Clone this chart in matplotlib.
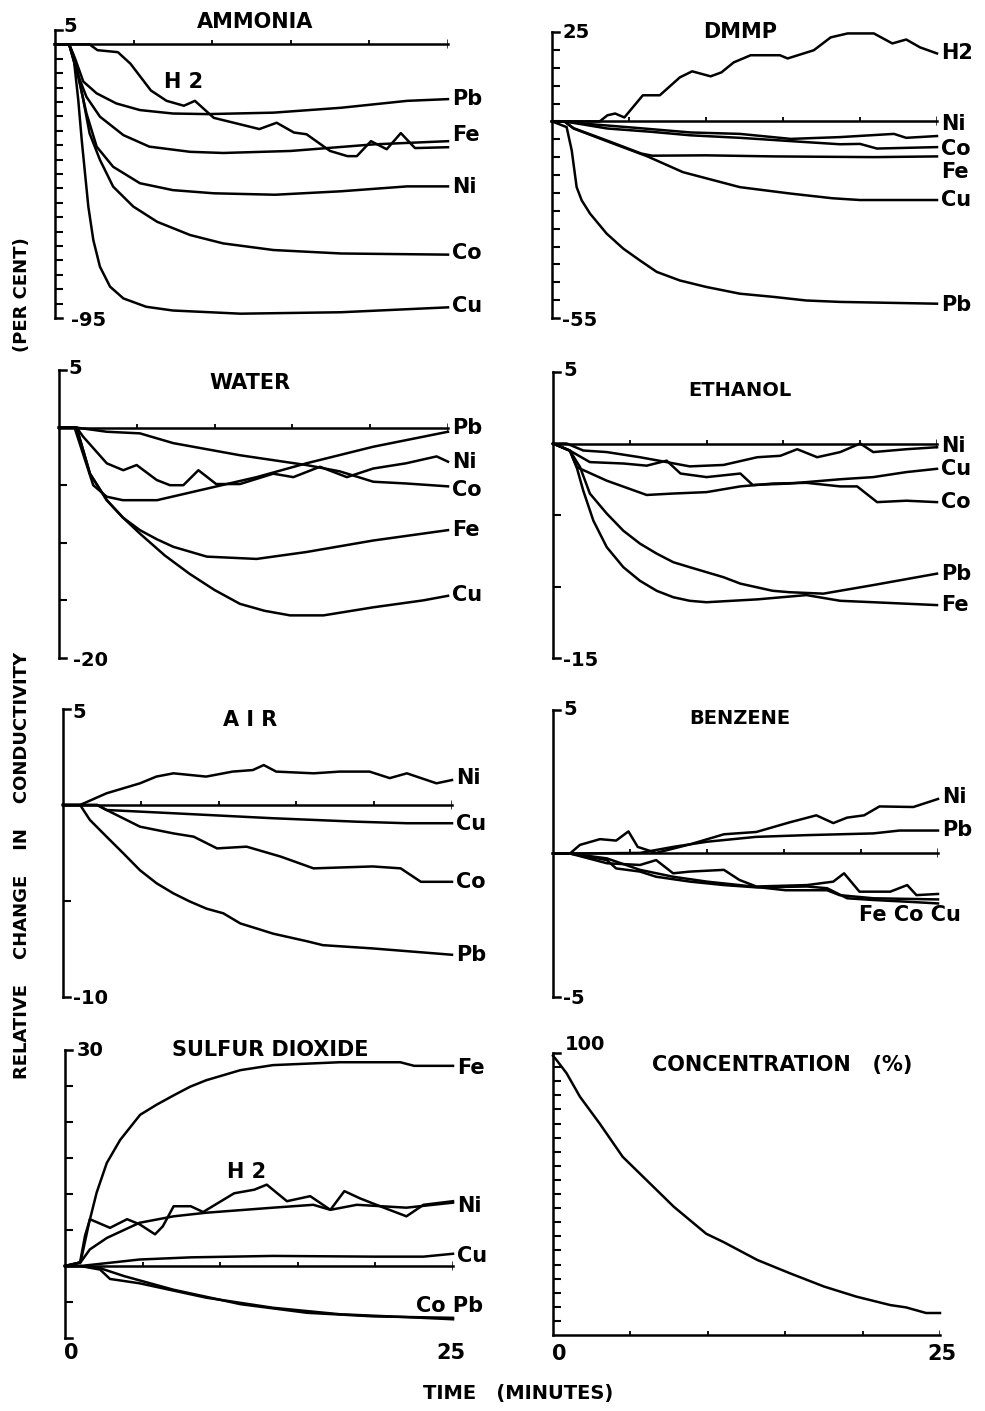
import matplotlib.pyplot as plt

W, H = 985, 1411

# ---------------- data: time (minutes), change (%) ----------------
ammonia = {
    "Cu": ([0, 0.9, 1.17, 1.48, 1.7, 1.91, 2.12, 2.44, 2.86, 3.5, 4.35, 5.8, 7.5, 11.8, 18.2, 25],
           [0, 0, -3.7, -19.3, -33.2, -44.8, -56.3, -68, -77.2, -84.1, -88.2, -91.1, -92.4,
            -93.5, -93, -91.3]),
    "Co": ([0, 0.9, 1.15, 1.38, 1.8, 2.2, 2.86, 3.7, 4.98, 6.5, 8.6, 10.7, 13.9, 18.2, 25],
           [0, 0, -4.5, -7.7, -19.3, -30.9, -40.1, -49.4, -56.3, -61.6, -66.2, -69.1, -71.4,
            -72.6, -73]),
    "Ni": ([0, 0.9, 1.38, 2.0, 2.65, 3.7, 5.4, 7.5, 10.1, 14.0, 18.2, 22.4, 25],
           [0, 0, -8.9, -23.9, -35.5, -42.5, -48.2, -50.6, -51.7, -52.2, -51, -49.3, -49.3]),
    "Fe": ([0, 0.9, 1.38, 2.0, 2.86, 4.35, 6.0, 8.6, 10.7, 15, 20.3, 25],
           [0, 0, -9.5, -18.2, -25.1, -31.5, -35.5, -37.3, -37.7, -37, -34.7, -33.6]),
    "Pb": ([0, 0.9, 1.27, 1.8, 2.65, 3.9, 5.4, 7.5, 9.7, 13.9, 18.2, 22.4, 25],
           [0, 0, -4.8, -12.9, -17, -20.5, -22.8, -24.0, -24.2, -23.7, -22, -19.6, -19]),
    "H2": ([0, 2.2, 2.7, 4.0, 4.8, 6.1, 7.1, 8.2, 8.9, 10.1, 13, 14.1, 15.2, 16, 17.5,
            18.6, 19.2, 20.1, 21.1, 22, 22.9, 25],
           [0, 0, -2, -2.7, -6.7, -16, -19.6, -21.3, -19.6, -25.5, -29.4, -27.2, -30.6,
            -31.2, -37, -38.8, -38.8, -33.6, -36.4, -30.8, -36, -35.7]),
}
ammonia_labels = [("Pb", -19), ("Fe", -31.5), ("Ni", -49.5), ("Co", -72.5), ("Cu", -91)]

dmmp = {
    "H2": ([0, 3.1, 3.6, 4.1, 4.7, 5.9, 7.0, 8.3, 9.1, 10.3, 11.0, 11.8, 12.9, 14.8, 15.3,
            17, 18.1, 19.2, 20.9, 22.1, 23, 23.9, 25],
           [0, 0, 1.7, 2.2, 1.1, 7.3, 7.3, 12.3, 14.0, 12.6, 13.7, 16.5, 18.5, 18.5, 17.6,
            19.9, 23.5, 24.6, 24.6, 21.8, 22.9, 20.7, 19.0]),
    "Ni": ([0, 0.8, 2.0, 5.7, 9.0, 12.2, 15.5, 18.7, 22.2, 23.0, 25],
           [0, 0, -0.6, -1.9, -3.1, -3.5, -4.9, -4.4, -3.5, -4.6, -4.1]),
    "Co": ([0, 0.8, 3.6, 6.4, 9.0, 12.2, 16.5, 18.7, 20.0, 21.1, 25],
           [0, 0, -2.0, -2.9, -3.9, -4.6, -5.8, -6.4, -6.3, -7.6, -7.2]),
    "Fe": ([0, 0.8, 1.4, 3.6, 5.8, 6.5, 10.0, 14.4, 20.9, 25],
           [0, 0, -1.9, -5.4, -9.0, -9.6, -9.5, -9.8, -10.0, -9.8]),
    "Cu": ([0, 0.8, 1.4, 3.6, 6.2, 8.5, 12.2, 15.5, 18.2, 20, 25],
           [0, 0, -2.0, -5.6, -9.8, -14.2, -18.4, -20.2, -21.5, -22, -22]),
    "Pb": ([0, 0.95, 1.28, 1.6, 1.93, 2.47, 3.55, 4.63, 5.71, 6.8, 8.3, 10.0, 12.2, 14.4,
            16.5, 18.7, 25],
           [0, -1.6, -8.1, -18.4, -22.1, -25.8, -31.4, -35.6, -38.9, -42.1, -44.5, -46.3,
            -48.2, -49.1, -50.1, -50.5, -51.0]),
}
dmmp_labels = [("H2", 19), ("Ni", -0.6), ("Co", -7.6), ("Fe", -14.3), ("Cu", -22.1), ("Pb", -51.5)]

water = {
    "Pb": ([0, 1.0, 1.6, 2.2, 3.07, 4.1, 6.3, 9.5, 12.7, 15.9, 20.2, 25],
           [0, 0, -2.5, -5.0, -6.0, -6.3, -6.3, -5.3, -4.3, -3.1, -1.66, -0.36]),
    "Ni": ([0, 1.13, 1.56, 3.07, 4.13, 4.99, 6.28, 7.13, 7.99, 8.96, 10.1, 11.63, 13.77,
            15.06, 16.77, 18.5, 20.2, 22.3, 24.27, 25],
           [0, 0, -0.8, -3.1, -3.7, -3.25, -4.55, -5.0, -5.0, -3.7, -4.9, -4.9, -4.0,
            -4.3, -3.4, -4.3, -3.55, -3.1, -2.5, -2.96]),
    "Co": ([0, 1.13, 3.07, 5.2, 7.35, 11.63, 15.9, 18.05, 20.2, 22.3, 25],
           [0, 0, -0.36, -0.5, -1.35, -2.4, -3.25, -3.8, -4.7, -4.85, -5.1]),
    "Fe": ([0, 1.13, 1.99, 3.07, 4.1, 5.2, 6.3, 7.35, 9.5, 12.7, 15.9, 20.2, 25],
           [0, 0, -4.0, -6.3, -7.8, -8.9, -9.7, -10.35, -11.2, -11.4, -10.8, -9.8, -8.9]),
    "Cu": ([0, 1.13, 1.99, 3.07, 4.1, 5.2, 6.8, 8.4, 10.0, 11.63, 13.2, 14.85, 17.0, 20.2, 23.4, 25],
           [0, 0, -4.0, -6.3, -7.8, -9.2, -11.1, -12.7, -14.1, -15.3, -15.9, -16.3, -16.3,
            -15.6, -15.0, -14.6]),
}
water_labels = [("Pb", 0), ("Ni", -3.0), ("Co", -5.4), ("Fe", -8.9), ("Cu", -14.5)]

ethanol = {
    "Ni": ([0, 0.89, 1.97, 3.5, 5.66, 7.4, 8.9, 11.1, 13.3, 14.8, 15.9, 17.2, 18.7, 20.0,
            20.85, 23.0, 25],
           [0, 0, -0.49, -0.6, -0.96, -1.3, -1.6, -1.5, -0.96, -0.86, -0.4, -0.96, -0.6,
            0, -0.6, -0.4, -0.26]),
    "Cu": ([0, 1.1, 2.4, 4.6, 6.1, 7.4, 8.3, 10.0, 12.2, 13.0, 15.4, 18.7, 20.85, 23.0, 25],
           [0, -0.5, -1.3, -1.4, -1.55, -1.2, -2.1, -2.35, -2.1, -2.9, -2.8, -2.5, -2.35,
            -2.0, -1.77]),
    "Co": ([0, 1.1, 1.54, 3.5, 6.1, 7.8, 10.0, 12.2, 14.3, 16.5, 18.7, 19.8, 21.1, 23.0, 25],
           [0, -0.5, -1.65, -2.6, -3.6, -3.5, -3.4, -3.0, -2.8, -2.75, -3.0, -3.0, -4.1,
            -4.0, -4.1]),
    "Pb": ([0, 1.1, 1.76, 2.4, 3.5, 4.58, 5.66, 6.75, 7.83, 8.9, 10.0, 11.1, 12.2, 14.3,
            15.4, 17.6, 20.85, 25],
           [0, -0.5, -1.65, -3.5, -4.9, -6.1, -7.0, -7.7, -8.3, -8.65, -9.0, -9.35, -9.8,
            -10.3, -10.4, -10.5, -9.9, -9.1]),
    "Fe": ([0, 1.1, 1.54, 1.97, 2.63, 3.5, 4.58, 5.66, 6.75, 7.83, 8.9, 10.0, 13.3, 16.5,
            18.7, 20.85, 25],
           [0, -0.5, -1.65, -3.3, -5.4, -7.25, -8.65, -9.6, -10.3, -10.75, -11.0, -11.1,
            -10.9, -10.6, -11.0, -11.1, -11.3]),
}
ethanol_labels = [("Ni", -0.2), ("Cu", -1.8), ("Co", -4.1), ("Pb", -9.1), ("Fe", -11.3)]

air = {
    "Ni": ([0, 1.09, 2.8, 4.95, 6.0, 7.1, 9.2, 10.9, 12.2, 12.9, 13.7, 16.1, 17.8, 19.7,
            21.0, 22.1, 24.0, 25],
           [0, 0, 0.61, 1.13, 1.48, 1.65, 1.48, 1.74, 1.82, 2.08, 1.74, 1.65, 1.74, 1.74,
            1.4, 1.65, 1.13, 1.3]),
    "Cu": ([0, 2.2, 2.8, 7.1, 13.5, 18.9, 22.1, 25],
           [0, 0, -0.26, -0.43, -0.69, -0.87, -0.95, -0.95]),
    "Co": ([0, 2.2, 2.8, 4.95, 7.1, 8.4, 9.9, 11.8, 14.0, 16.1, 19.9, 21.7, 23.0, 25],
           [0, 0, -0.26, -1.13, -1.48, -1.65, -2.26, -2.17, -2.69, -3.3, -3.2, -3.3, -4.0, -4.0]),
    "Pb": ([0, 1.1, 1.73, 2.8, 3.88, 4.95, 6.02, 7.09, 8.16, 9.23, 10.3, 11.4, 12.4, 13.5,
            15.7, 16.7, 19.9, 25],
           [0, 0, -0.78, -1.65, -2.52, -3.4, -4.08, -4.6, -5.03, -5.4, -5.64, -6.17, -6.42,
            -6.7, -7.1, -7.3, -7.47, -7.8]),
}
air_labels = [("Ni", 1.4), ("Cu", -1.0), ("Co", -4.0), ("Pb", -7.8)]

benzene = {
    "Ni": ([0, 1.1, 1.75, 3.05, 4.1, 4.9, 5.5, 6.7, 8.9, 11.1, 13.2, 15.4, 17.1, 18.2,
            19.1, 20.2, 21.2, 23.4, 25],
           [0, 0, 0.3, 0.5, 0.45, 0.77, 0.23, 0.02, 0.32, 0.67, 0.75, 1.09, 1.33, 1.06,
            1.25, 1.33, 1.64, 1.62, 1.9]),
    "Pb": ([0, 1.1, 5.65, 7.8, 10.0, 13.2, 16.5, 20.8, 22.5, 25],
           [0, 0, 0.02, 0.23, 0.41, 0.58, 0.64, 0.7, 0.8, 0.8]),
    "Fe": ([0, 1.1, 3.5, 5.65, 6.7, 7.8, 8.9, 11.1, 12.1, 13.2, 16.5, 18.2, 18.9, 19.9,
            21.9, 23.0, 23.6, 25],
           [0, 0, -0.34, -0.4, -0.23, -0.69, -0.63, -0.57, -0.92, -1.15, -1.1, -0.98, -0.69,
            -1.33, -1.33, -1.1, -1.45, -1.41]),
    "Co": ([0, 1.1, 3.5, 5.65, 7.8, 10.0, 12.1, 15.1, 17.8, 18.6, 20.8, 25],
           [0, 0, -0.17, -0.57, -0.81, -0.98, -1.1, -1.28, -1.28, -1.45, -1.56, -1.6]),
    "Cu": ([0, 1.1, 3.5, 4.1, 5.65, 6.7, 8.9, 11.1, 13.2, 16.5, 17.8, 19.1, 20.8, 23.0, 25],
           [0, 0, -0.23, -0.52, -0.63, -0.81, -0.98, -1.1, -1.18, -1.15, -1.21, -1.56,
            -1.62, -1.68, -1.74]),
}
benzene_labels = [("Ni", 1.97), ("Pb", 0.82)]

sulfur = {
    "Fe": ([0, 0.97, 1.29, 1.61, 2.04, 2.69, 3.55, 4.84, 5.9, 7.0, 8.06, 9.1, 10.2, 11.3,
            13.4, 17.7, 21.6, 22.5, 25],
           [0, 0.5, 4.2, 6.5, 10.2, 14.3, 17.5, 21.0, 22.4, 23.7, 24.9, 25.8, 26.5, 27.2,
            27.9, 28.3, 28.3, 27.8, 27.8]),
    "Ni": ([0, 1.0, 1.6, 2.7, 4.8, 7.0, 9.1, 13.4, 16.0, 17.1, 18.8, 22.0, 25],
           [0, 0.5, 2.3, 3.9, 6.0, 6.9, 7.4, 8.1, 8.5, 7.8, 8.5, 8.1, 8.8]),
    "H2": ([0, 1.0, 1.6, 2.9, 4.0, 4.8, 5.8, 6.3, 7.0, 8.1, 8.9, 10.9, 12.2, 13.0, 14.3,
            15.8, 17.1, 18.0, 19.0, 20.3, 22.0, 23.1, 25],
           [0, 0.5, 6.5, 5.3, 6.5, 5.8, 4.4, 5.5, 8.3, 8.3, 7.5, 10.1, 10.6, 11.3, 9.0,
            9.7, 7.8, 10.4, 9.4, 8.3, 6.9, 8.5, 9.0]),
    "Cu": ([0, 1.0, 4.8, 8.1, 13.4, 19.9, 23.1, 25],
           [0, 0, 0.9, 1.2, 1.4, 1.3, 1.3, 1.7]),
    "Co": ([0, 1.0, 2.26, 2.9, 4.8, 9.1, 13.4, 17.7, 22.0, 25],
           [0, 0, -0.5, -1.8, -2.4, -4.4, -5.8, -6.7, -7.1, -7.4]),
    "Pb": ([0, 1.0, 2.26, 3.8, 7.0, 11.3, 15.6, 19.9, 25],
           [0, 0, -0.3, -1.4, -3.3, -5.3, -6.5, -7.0, -7.2]),
}
sulfur_labels = [("Fe", 27.5), ("Ni", 8.3), ("Cu", 1.4)]

conc_t = [0, 0.23, 0.88, 1.74, 3.0, 4.5, 5.6, 7.8, 9.9, 11.0, 13.2, 15.3, 17.5, 19.6,
          21.8, 22.8, 24.1, 25]
conc_v = [99, 97.5, 92.8, 84.5, 75.1, 63.2, 57.3, 45.5, 35.9, 33.0, 26.6, 21.9, 17.2,
          13.6, 10.6, 9.8, 7.8, 7.8]

# ---------------- layout (pixel boxes: left, right, top, bottom) ----------------
plt.rcParams['font.family'] = ['DejaVu Sans']
plt.rcParams['font.weight'] = 'bold'
LW = 1.8

fig = plt.figure(figsize=(W / 100, H / 100), dpi=100)


def panel(box, ymin, ymax, ticks, zero_axis=True):
    l, r, t, b = box
    ax = fig.add_axes([l / W, 1 - b / H, (r - l) / W, (b - t) / H])
    ax.set_xlim(0, 25)
    ax.set_ylim(ymin, ymax)
    for s in ['top', 'right', 'bottom']:
        ax.spines[s].set_visible(False)
    ax.spines['left'].set_linewidth(LW)
    ax.set_xticks([])
    ax.set_yticks(ticks)
    ax.tick_params(axis='y', direction='in', length=6, width=1.5, labelleft=False)
    ppu = (b - t) / (ymax - ymin)
    # bracket hooks at the ends of the vertical axis
    ax.plot([0, 0.45], [ymax, ymax], color='k', lw=LW, clip_on=False)
    if zero_axis:
        ax.plot([0, 0.45], [ymin, ymin], color='k', lw=LW, clip_on=False)
    y0 = 0 if zero_axis else ymin
    ax.plot([0, 25], [y0, y0], color='k', lw=LW, clip_on=False)
    ax.vlines([5, 10, 15, 20], y0, y0 + 4 / ppu, color='k', lw=1.3)
    ax.vlines(25, y0 - (4 / ppu if zero_axis else 0), y0 + 5 / ppu, color='k', lw=LW)
    return ax


def draw(ax, curves):
    for name, (tt, vv) in curves.items():
        ax.plot(tt, vv, color='k', lw=LW, clip_on=False, solid_joinstyle='round')


def right_labels(ax, labels):
    for name, yv in labels:
        ax.annotate(name, (25, yv), xytext=(4, 0), textcoords='offset pixels',
                    ha='left', va='center', fontsize=15, annotation_clip=False)


def end_values(ax, top, bottom, dx_top=8, dx_bot=10, dy_top=2):
    y0, y1 = ax.get_ylim()
    ax.annotate(top, (0, y1), xytext=(dx_top, dy_top), textcoords='offset pixels',
                ha='left', va='center', fontsize=14, annotation_clip=False)
    if bottom:
        ax.annotate(bottom, (0, y0), xytext=(dx_bot, -2), textcoords='offset pixels',
                    ha='left', va='center', fontsize=14, annotation_clip=False)


def title(x, y, s, size=15):
    fig.text(x / W, 1 - y / H, s, ha='center', va='center', fontsize=size)


# AMMONIA
ax = panel((55, 448, 30, 318), -95, 5, list(range(-90, 0, 5)))
draw(ax, ammonia)
right_labels(ax, ammonia_labels)
ax.text(8.2, -13, "H 2", ha='center', va='center', fontsize=15)
end_values(ax, "5", "-95", dx_top=8, dx_bot=16, dy_top=4)
title(255, 22, "AMMONIA")

# DMMP
ax = panel((552, 937, 32, 318), -55, 25, list(range(-50, 25, 5)))
draw(ax, dmmp)
right_labels(ax, dmmp_labels)
end_values(ax, "25", "-55", dx_top=10, dy_top=0)
title(740, 32, "DMMP")

# WATER
ax = panel((59, 448, 370, 658), -20, 5, [-15, -10, -5])
draw(ax, water)
right_labels(ax, water_labels)
end_values(ax, "5", "-20", dx_top=9, dx_bot=14)
title(250, 383, "WATER")

# ETHANOL
ax = panel((553, 937, 372, 658), -15, 5, [-10, -5])
draw(ax, ethanol)
right_labels(ax, ethanol_labels)
end_values(ax, "5", "-15", dx_top=10)
title(740, 390, "ETHANOL", size=14)

# AIR
ax = panel((63, 452, 709, 997), -10, 5, [-5])
draw(ax, air)
right_labels(ax, air_labels)
end_values(ax, "5", "-10", dx_top=9, dx_bot=10, dy_top=-4)
title(250, 720, "A I R")

# BENZENE
ax = panel((553, 938, 710, 997), -5, 5, [])
draw(ax, benzene)
right_labels(ax, benzene_labels)
ax.text(19.9, -2.14, "Fe Co Cu", ha='left', va='center', fontsize=15)
end_values(ax, "5", "-5", dx_top=10, dy_top=0)
title(740, 718, "BENZENE", size=14)

# SULFUR DIOXIDE
ax = panel((65, 453, 1050, 1338), -10, 30, list(range(-5, 30, 5)))
draw(ax, sulfur)
right_labels(ax, sulfur_labels)
ax.text(24.8, -5.5, "Co Pb", ha='center', va='center', fontsize=15)
ax.text(11.7, 13.1, "H 2", ha='center', va='center', fontsize=15)
end_values(ax, "30", None, dx_top=12, dy_top=0)
ax.annotate("0", (0, -10), xytext=(6, -15), textcoords='offset pixels',
            ha='center', va='center', fontsize=15, annotation_clip=False)
ax.annotate("25", (25, -10), xytext=(-2, -15), textcoords='offset pixels',
            ha='center', va='center', fontsize=15, annotation_clip=False)
title(270, 1050, "SULFUR DIOXIDE")

# CONCENTRATION
ax = panel((553, 940, 1053, 1335), 0, 100, list(range(5, 100, 5)), zero_axis=False)
ax.plot(conc_t, conc_v, color='k', lw=LW, clip_on=False)
end_values(ax, "100", None, dx_top=12, dy_top=8)
ax.annotate("0", (0, 0), xytext=(6, -19), textcoords='offset pixels',
            ha='center', va='center', fontsize=15, annotation_clip=False)
ax.annotate("25", (25, 0), xytext=(2, -19), textcoords='offset pixels',
            ha='center', va='center', fontsize=15, annotation_clip=False)
title(782, 1065, "CONCENTRATION   (%)")

# shared axis titles
fig.text(22 / W, 1 - 295 / H, "(PER CENT)", rotation=90, ha='center', va='center', fontsize=13)
fig.text(22 / W, 1 - 865 / H, "RELATIVE    CHANGE    IN    CONDUCTIVITY", rotation=90,
         ha='center', va='center', fontsize=13)
fig.text(518 / W, 1 - 1393 / H, "TIME   (MINUTES)", ha='center', va='center', fontsize=14)

fig.savefig("out.png", dpi=100, facecolor='white')
